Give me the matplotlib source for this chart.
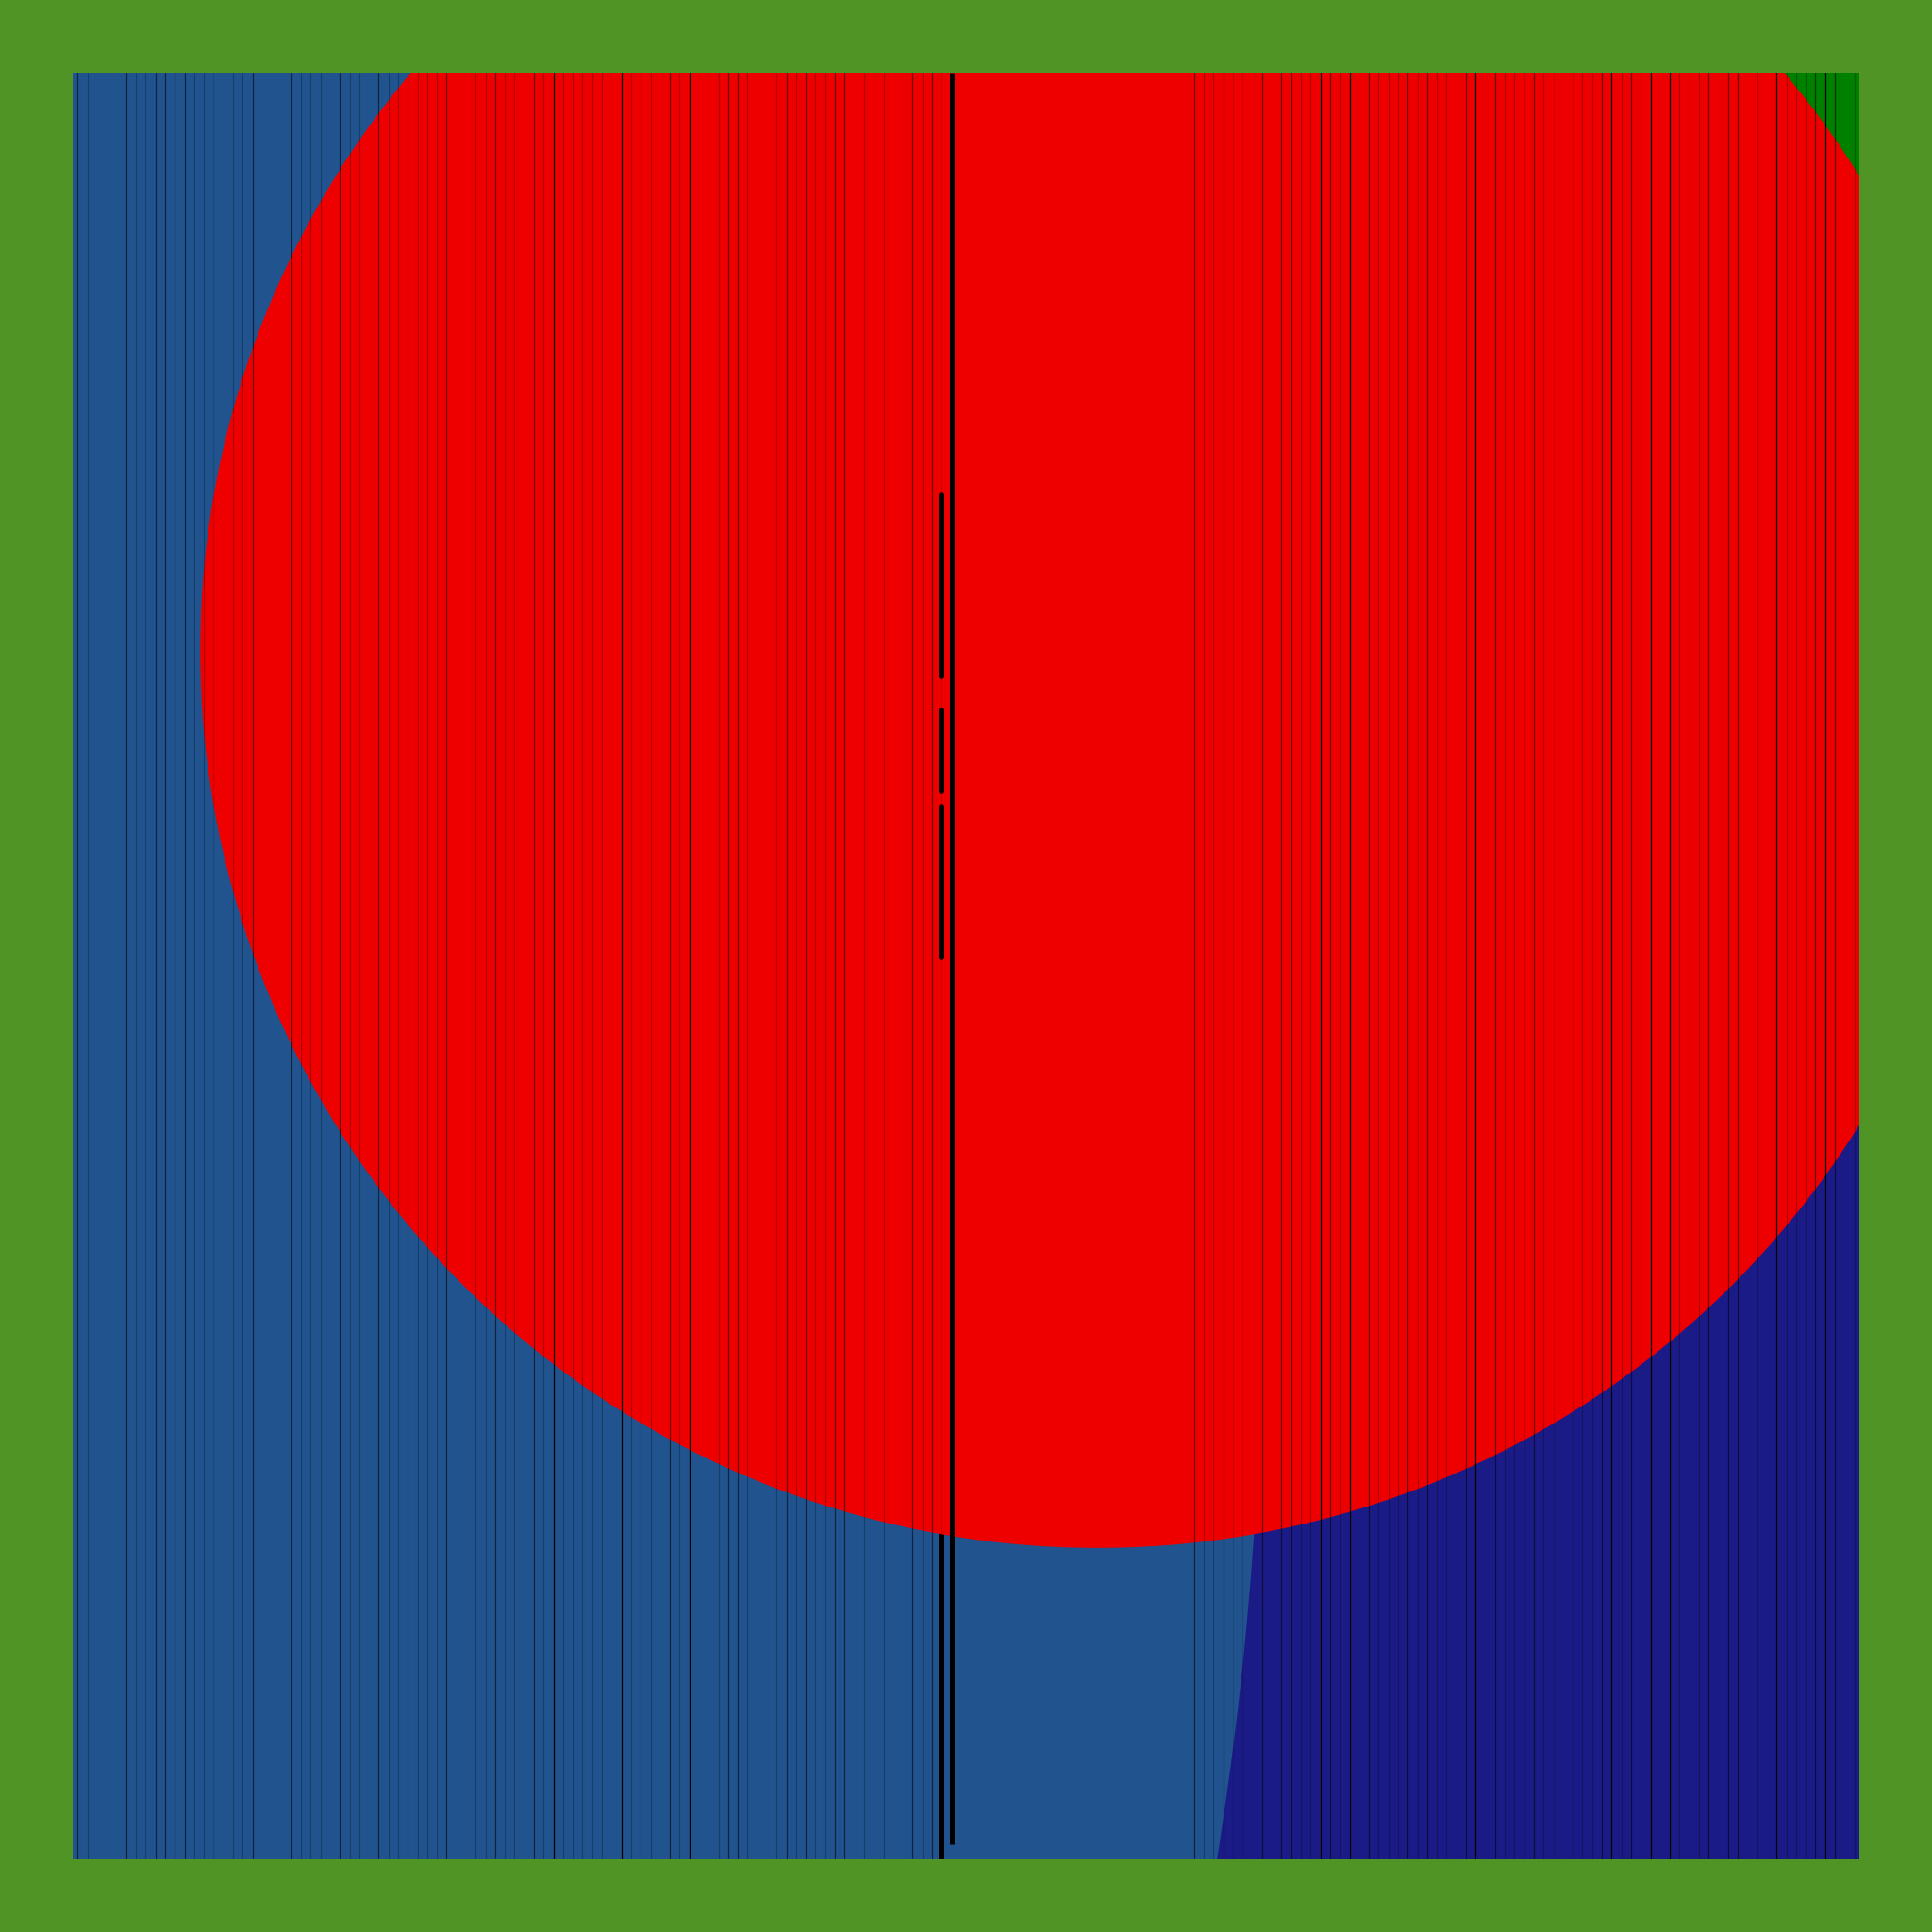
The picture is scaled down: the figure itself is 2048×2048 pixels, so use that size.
#!/usr/bin/env python3

import numpy as np
import matplotlib
matplotlib.use("Agg")
import matplotlib.pyplot as plt
from matplotlib.patches import Circle

#number of stripe slots across the panel
n_slots = 184

#stripe slots grouped by how dark they are
black_idx = [49, 56, 63, 128, 131, 144, 158, 162, 164, 175, 180]
dark_idx = [0, 5, 8, 9, 10, 11, 18, 22, 27, 31, 38, 43, 47, 61, 67, 68, 73, 75,
            78, 79, 86, 88, 115, 118, 122, 124, 125, 129, 133, 137, 139, 143,
            146, 150, 157, 160, 168, 170, 171, 179, 181]
mid_idx = [1, 6, 7, 12, 13, 16, 17, 23, 24, 25, 28, 29, 32, 33, 34, 35, 36, 37,
           41, 42, 44, 45, 48, 50, 51, 52, 53, 54, 57, 58, 59, 62, 66, 69, 72,
           74, 76, 77, 81, 83, 87, 116, 117, 126, 127, 130, 134, 135, 136, 138,
           140, 141, 147, 148, 151, 155, 156, 159, 161, 165, 166, 167, 173, 176,
           177, 178, 183]
faint_idx = [14, 89, 119, 120, 142, 149, 152, 154]

#discs: centre x, centre y, radius (data units)
disc_x = [186.4, -247.4, 105.06]
disc_y = [191.1, 57.9, 124.0]
disc_r = [38.9, 369.4, 92.44]
disc_col = ["#008000", "#21548f", "#ee0000"]

#heavy bars
bar_main_x = 90
bar_main_lo = 1.0
bar_side_x = 89
side_dash_lo = [121.3, 109.5, 92.4]
side_dash_hi = [139.95, 117.85, 107.9]

fig = plt.figure(figsize=(20.48, 20.48), dpi=100)
fig.patch.set_facecolor("#509426")
ax = fig.add_axes([0.0377, 0.0377, 0.9246, 0.9246])
ax.set_facecolor("#1b1b87")
ax.set_xlim(-0.5, n_slots - 0.5)
ax.set_ylim(-0.5, n_slots - 0.5)
ax.set_xticks([])
ax.set_yticks([])
for s in ax.spines.values():
    s.set_visible(False)

#green corner and big blue disc
for i in range(2):
    ax.add_patch(Circle((disc_x[i], disc_y[i]), disc_r[i],
                        facecolor=disc_col[i], linewidth=0, zorder=1 + i))

#lower part of the side bar sits under the red disc
ax.axvline(bar_side_x, color="black", linewidth=4.3, zorder=2.5)

#red disc
ax.add_patch(Circle((disc_x[2], disc_y[2]), disc_r[2],
                    facecolor=disc_col[2], linewidth=0, zorder=3))

#thin stripes
for idx, a in [(faint_idx, 0.12), (mid_idx, 0.25), (dark_idx, 0.55), (black_idx, 1.0)]:
    for k in idx:
        ax.axvline(k, color="black", alpha=a, linewidth=0.9, zorder=4)

#dashes of the side bar on top of the red disc
ax.vlines([bar_side_x] * len(side_dash_lo), side_dash_lo, side_dash_hi,
          color="black", linewidth=4.3, capstyle="round", zorder=5)

#main bar
ax.vlines(bar_main_x, bar_main_lo, n_slots - 0.5,
          color="black", linewidth=3.6, zorder=5)

fig.savefig("out.png", dpi=100, facecolor=fig.get_facecolor())
